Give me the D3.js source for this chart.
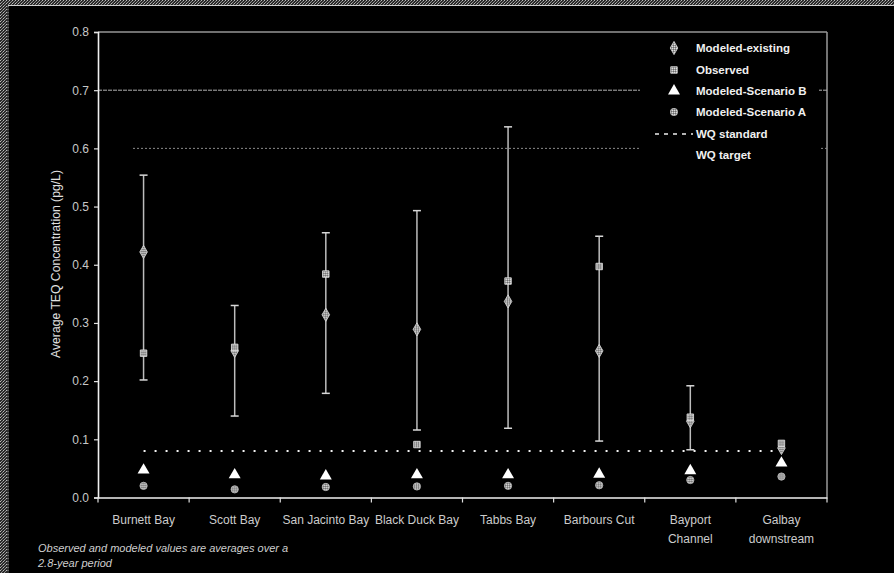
<!DOCTYPE html>
<html>
<head>
<meta charset="utf-8">
<script src="https://cdn.jsdelivr.net/npm/d3@7"></script>
<style>
  html, body { margin: 0; padding: 0; background: #000; }
  svg { display: block; }
  text { font-family: "Liberation Sans", Arial, sans-serif; }
</style>
</head>
<body>
<svg id="chart" width="894" height="573"></svg>
<script>
// Sampling stations along the channel
const categories = ["Burnett Bay", "Scott Bay", "San Jacinto Bay", "Black Duck Bay",
                    "Tabbs Bay", "Barbours Cut", "Bayport Channel", "Galbay downstream"];
const categoryLines = [["Burnett Bay"], ["Scott Bay"], ["San Jacinto Bay"], ["Black Duck Bay"],
                       ["Tabbs Bay"], ["Barbours Cut"], ["Bayport", "Channel"], ["Galbay", "downstream"]];

// Average TEQ concentration (pg/L)
const modeledExisting = [0.422, 0.252, 0.314, 0.289, 0.337, 0.252, 0.131, 0.085];
const observed        = [0.248, 0.258, 0.384, 0.091, 0.372, 0.397, 0.138, 0.093];
const scenarioB       = [0.047, 0.039, 0.037, 0.039, 0.039, 0.040, 0.046, 0.059];
const scenarioA       = [0.020, 0.014, 0.018, 0.019, 0.020, 0.021, 0.030, 0.036];
const rangeLow        = [0.202, 0.140, 0.179, 0.116, 0.119, 0.097, 0.082, null];
const rangeHigh       = [0.554, 0.330, 0.455, 0.493, 0.637, 0.449, 0.192, null];

const wqStandard = 0.0797;
const referenceLevels = [0.7, 0.6];
const yTicks = [0, 0.1, 0.2, 0.3, 0.4, 0.5, 0.6, 0.7, 0.8];

const legendItems = [
  { label: "Modeled-existing",   kind: "diamond" },
  { label: "Observed",           kind: "square" },
  { label: "Modeled-Scenario B", kind: "triangle" },
  { label: "Modeled-Scenario A", kind: "circle" },
  { label: "WQ standard",        kind: "dash" },
  { label: "WQ target",          kind: "none" }
];

const svg = d3.select("#chart");
const W = 894, H = 573;
const plot = { left: 98, right: 827, top: 32, bottom: 497.5 };

// Textured fills for the grey markers and the page border
const defs = svg.append("defs");
const dots = defs.append("pattern").attr("id", "grain")
  .attr("width", 3).attr("height", 3).attr("patternUnits", "userSpaceOnUse");
dots.append("rect").attr("width", 3).attr("height", 3).attr("fill", "#2a2a2a");
dots.append("rect").attr("x", 0).attr("y", 0).attr("width", 1).attr("height", 1).attr("fill", "#bbb");
dots.append("rect").attr("x", 2).attr("y", 1).attr("width", 1).attr("height", 1).attr("fill", "#888");
dots.append("rect").attr("x", 1).attr("y", 2).attr("width", 1).attr("height", 1).attr("fill", "#999");

const markFill = defs.append("pattern").attr("id", "markfill")
  .attr("width", 2).attr("height", 2).attr("patternUnits", "userSpaceOnUse");
markFill.append("rect").attr("width", 2).attr("height", 2).attr("fill", "#9a9a9a");
markFill.append("rect").attr("width", 1).attr("height", 1).attr("fill", "#dcdcdc");
markFill.append("rect").attr("x", 1).attr("y", 1).attr("width", 1).attr("height", 1).attr("fill", "#6a6a6a");

svg.append("rect").attr("width", W).attr("height", H).attr("fill", "#000");
// Grainy page margin and frame
svg.append("rect").attr("x", 0).attr("y", 0).attr("width", W).attr("height", 5).attr("fill", "url(#grain)");
svg.append("rect").attr("x", 0).attr("y", 0).attr("width", 7).attr("height", H).attr("fill", "url(#grain)");
svg.append("line").attr("x1", 8).attr("x2", W).attr("y1", 5.5).attr("y2", 5.5)
  .attr("stroke", "#d0d0d0").attr("stroke-width", 1);
svg.append("line").attr("x1", 8).attr("x2", 8).attr("y1", 5.5).attr("y2", H)
  .attr("stroke", "#bdbdbd").attr("stroke-width", 1).attr("stroke-dasharray", "2,1");

const x = d3.scaleBand().domain(categories).range([plot.left, plot.right]);
const y = d3.scaleLinear().domain([0, 0.8]).range([plot.bottom, plot.top]);
const cx = c => x(c) + x.bandwidth() / 2;

// Plot frame: top and right edges
svg.append("line").attr("x1", plot.left).attr("x2", plot.right)
  .attr("y1", plot.top).attr("y2", plot.top).attr("stroke", "#e0e0e0").attr("stroke-width", 1.2);
svg.append("line").attr("x1", plot.right).attr("x2", plot.right)
  .attr("y1", plot.top).attr("y2", plot.bottom).attr("stroke", "#9a9a9a").attr("stroke-width", 1.5);

// Horizontal reference levels
svg.append("line").attr("x1", plot.left).attr("x2", plot.right)
  .attr("y1", y(referenceLevels[0])).attr("y2", y(referenceLevels[0]))
  .attr("stroke", "#b0b0b0").attr("stroke-width", 1).attr("stroke-dasharray", "4,1");
svg.append("line").attr("x1", 133).attr("x2", plot.right)
  .attr("y1", y(referenceLevels[1])).attr("y2", y(referenceLevels[1]))
  .attr("stroke", "#8a8a8a").attr("stroke-width", 1).attr("stroke-dasharray", "2,2");

// Y axis
const yAxis = svg.append("g").attr("transform", `translate(${plot.left},0)`)
  .call(d3.axisLeft(y).tickValues(yTicks).tickFormat(d3.format(".1f")).tickSize(4).tickPadding(5));
yAxis.select(".domain").attr("stroke", "#f0f0f0").attr("stroke-width", 1.6);
yAxis.selectAll(".tick line").attr("stroke", "#e0e0e0").attr("stroke-width", 1.2);
yAxis.selectAll(".tick text").attr("fill", "#c8c8c8").attr("font-size", 12)
  .attr("font-family", "Liberation Sans, Arial, sans-serif");

svg.append("text")
  .attr("transform", `translate(56,${(168 + 360) / 2}) rotate(-90)`)
  .attr("text-anchor", "middle").attr("dominant-baseline", "central")
  .attr("fill", "#e0e0e0").attr("font-size", 12.2)
  .text("Average TEQ Concentration (pg/L)");

// X axis: line, ticks at category boundaries, labels under each band
const xAxis = svg.append("g").attr("transform", `translate(0,${plot.bottom})`)
  .call(d3.axisBottom(x).tickSize(0).tickFormat(""));
xAxis.select(".domain").attr("stroke", "#f0f0f0").attr("stroke-width", 1.6);
const boundaries = d3.range(categories.length + 1).map(i => plot.left + i * x.step());
svg.append("g").selectAll("line").data(boundaries).join("line")
  .attr("x1", d => d).attr("x2", d => d)
  .attr("y1", plot.bottom).attr("y2", plot.bottom + 5)
  .attr("stroke", "#e0e0e0").attr("stroke-width", 1.2);

const labels = svg.append("g").selectAll("text").data(categories).join("text")
  .attr("x", d => cx(d)).attr("y", 524)
  .attr("text-anchor", "middle").attr("fill", "#cccccc").attr("font-size", 12);
labels.each(function(d, i) {
  d3.select(this).selectAll("tspan").data(categoryLines[i]).join("tspan")
    .attr("x", cx(d)).attr("dy", (t, j) => j === 0 ? 0 : 19).text(t => t);
});

// WQ standard
svg.append("line")
  .attr("x1", cx(categories[0])).attr("x2", cx(categories[categories.length - 1]))
  .attr("y1", y(wqStandard)).attr("y2", y(wqStandard))
  .attr("stroke", "#f2f2f2").attr("stroke-width", 2).attr("stroke-dasharray", "2,9");

// Range bars
const rows = categories.map((c, i) => ({
  c, lo: rangeLow[i], hi: rangeHigh[i],
  me: modeledExisting[i], ob: observed[i], sb: scenarioB[i], sa: scenarioA[i]
}));
const ranged = rows.filter(r => r.lo != null && r.hi != null);
const bars = svg.append("g");
bars.selectAll("line.stem").data(ranged).join("line").attr("class", "stem")
  .attr("x1", d => cx(d.c)).attr("x2", d => cx(d.c))
  .attr("y1", d => y(d.lo)).attr("y2", d => y(d.hi))
  .attr("stroke", "#bdbdbd").attr("stroke-width", 1.5);
bars.selectAll("line.capHi").data(ranged).join("line").attr("class", "capHi")
  .attr("x1", d => cx(d.c) - 4).attr("x2", d => cx(d.c) + 4)
  .attr("y1", d => y(d.hi)).attr("y2", d => y(d.hi))
  .attr("stroke", "#d8d8d8").attr("stroke-width", 1.5);
bars.selectAll("line.capLo").data(ranged).join("line").attr("class", "capLo")
  .attr("x1", d => cx(d.c) - 4).attr("x2", d => cx(d.c) + 4)
  .attr("y1", d => y(d.lo)).attr("y2", d => y(d.lo))
  .attr("stroke", "#d8d8d8").attr("stroke-width", 1.5);

// Marker shapes
const shapes = {
  diamond:  { path: d3.symbol(d3.symbolDiamond, 50)(),  fill: "url(#markfill)", stroke: "#e0e0e0" },
  square:   { path: d3.symbol(d3.symbolSquare, 42)(),   fill: "url(#markfill)", stroke: "#e8e8e8" },
  triangle: { path: d3.symbol(d3.symbolTriangle, 62)(), fill: "#ffffff",        stroke: "none" },
  circle:   { path: d3.symbol(d3.symbolCircle, 42)(),   fill: "url(#markfill)", stroke: "#bdbdbd" }
};
function drawSeries(key, kind) {
  const s = shapes[kind];
  svg.append("g").selectAll("path").data(rows).join("path")
    .attr("transform", d => `translate(${cx(d.c)},${y(d[key])})`)
    .attr("d", s.path).attr("fill", s.fill).attr("stroke", s.stroke).attr("stroke-width", 0.8);
}
drawSeries("sa", "circle");
drawSeries("sb", "triangle");
drawSeries("me", "diamond");
drawSeries("ob", "square");

// Legend (opaque box hides the reference levels behind it)
const legend = svg.append("g");
legend.append("rect").attr("x", 640).attr("y", plot.top + 1.5)
  .attr("width", 179).attr("height", 133).attr("fill", "#000");
const ly = [48, 70, 91, 112, 134, 155];
legendItems.forEach((it, i) => {
  const g = legend.append("g");
  if (shapes[it.kind]) {
    g.append("path").attr("transform", `translate(674,${ly[i]})`)
      .attr("d", shapes[it.kind].path).attr("fill", shapes[it.kind].fill)
      .attr("stroke", shapes[it.kind].stroke).attr("stroke-width", 0.8);
  } else if (it.kind === "dash") {
    g.append("line").attr("x1", 655).attr("x2", 693).attr("y1", ly[i]).attr("y2", ly[i])
      .attr("stroke", "#eeeeee").attr("stroke-width", 1.4).attr("stroke-dasharray", "4,5");
  }
  g.append("text").attr("x", 696).attr("y", ly[i]).attr("dominant-baseline", "central")
    .attr("fill", "#f0f0f0").attr("font-size", 11.5).attr("font-weight", "bold").text(it.label);
});

// Footnote
const note = svg.append("text").attr("x", 38).attr("y", 552)
  .attr("fill", "#cfcfcf").attr("font-size", 11).attr("font-style", "italic");
note.append("tspan").attr("x", 38).text("Observed and modeled values are averages over a");
note.append("tspan").attr("x", 38).attr("dy", 15).text("2.8-year period");
</script>
</body>
</html>
